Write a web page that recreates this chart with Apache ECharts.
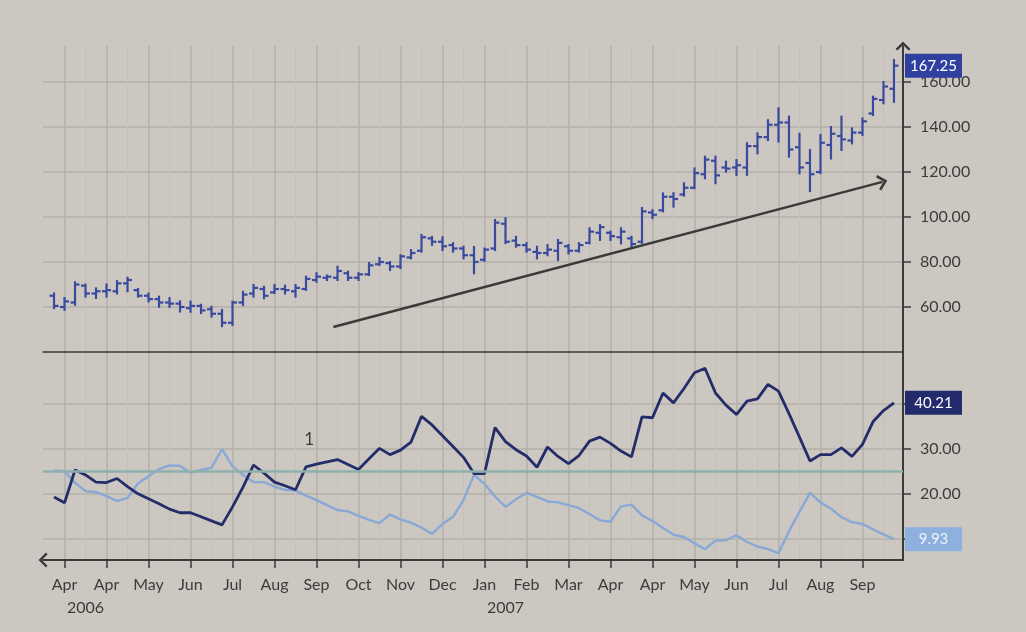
<!DOCTYPE html>
<html><head><meta charset="utf-8">
<script src="https://cdn.jsdelivr.net/npm/echarts@6/dist/echarts.min.js"></script>
<style>html,body{margin:0;padding:0;background:#ccc8c1}#c{width:1026px;height:632px}</style>
</head><body><div id="c"></div>
<script>
// ---- data (weekly) ----
const monthLabels = ['Apr','Apr','May','Jun','Jul','Aug','Sep','Oct','Nov','Dec','Jan','Feb','Mar','Apr','Apr','May','Jun','Jul','Aug','Sep'];
const monthTickWeeks = [1,5,9,13,17,21,25,29,33,37,41,45,49,53,57,61,65,69,73,77];
const yearLabels = ['2006','2007'];
const yearLabelWeeks = [3,43];

const opens = [65,60,62,69.5,66,67,67,70.5,67.5,65,
  63.5,62,61.5,59.5,60.5,59,57,53,62,66,
  68,66.5,68,67,68,72,73,73,75,73,
  74.5,79,79.5,78,82,85,90.5,89,87.5,86,
  83,81,86,97,89.5,87.5,84.5,84,85,87,
  85,88.5,93,93,91,90.5,89,102,103,109,
  110,113,119,125,122,122,122,131.5,135.5,141,
  142,131,124,120,132,136,134,137.5,146,152,
  157];
const closes = [60.5,62.5,70,66,67,67.5,70.5,72,65,63.5,
  62,61.5,60,60.5,58.5,57,53,62,65.5,68.5,
  65,68,67.5,68.5,72.5,73.5,73.5,76,73,74.5,
  78.5,80,78,82.5,84,91,89,87,86,83,
  80,85.5,97.5,89,87.5,85.5,84,85.5,88.5,85,
  87.5,93.5,95.5,91.5,93.5,88,102.5,101,109,108,
  113,119.5,125.5,118.5,121.5,123,131.5,135.5,141,142,
  130,122,119,133,137,134.5,137.5,142.5,152.5,158,
  167.25];
const lows = [59.5,58.7,61,64.6,64,64.6,66,67,64.6,62.4,
  60.1,60,58,57.9,57.3,55.7,51.5,52,60.9,64.6,
  63.9,66.2,66,64.6,67.6,71.2,72,72,72,72,
  74.2,78.7,76.4,77.3,81.6,84.6,87.6,85.3,84.6,81.6,
  75,80.5,85.3,88.4,86.8,84.6,81.6,83,80.9,83.8,
  84.6,88.3,89.8,89.8,88.3,86.8,88.5,99.5,102.5,104.6,
  109.5,112.8,117.2,115,120.1,118.7,118.7,128.3,134.2,133.5,
  126.8,119.4,111.5,119.5,126,129.8,132.7,136.4,145.3,150.5,
  151.2];
const highs = [66,64,71,70,68.3,70,71.5,73,68,66,
  64.6,64,62.5,62.4,61,60.1,58.7,62.4,66.8,69.8,
  69,69.8,69.5,69.8,73.5,75,74,77.9,75.7,75,
  79.6,81.8,80,83,85.3,92,91.2,91,88.4,86.8,
  86.7,86,98.7,99.5,91.2,88.4,86.8,87.5,89.8,87.6,
  88.4,95,96.4,93.5,95,91.2,104,103,110.5,110.6,
  115,121.6,126.8,126.8,124.6,125.3,132.8,137.2,143,148.3,
  144.6,137,129.8,136.4,140,144.6,139.4,143.8,153.5,160,
  169.8];

const plusDI = [19.3,18.0,25.3,24.2,22.6,22.5,23.4,21.6,20.0,18.9,
  17.8,16.6,15.8,15.8,14.9,14.0,13.1,17.1,21.5,26.4,
  24.6,22.6,21.8,20.9,26.0,26.6,27.1,27.6,26.5,25.4,
  27.8,30.1,28.7,29.7,31.5,37.2,35.3,32.9,30.5,28.1,
  24.5,24.5,34.7,31.6,29.8,28.4,25.9,30.4,28.3,26.7,
  28.5,31.7,32.6,31.2,29.5,28.2,37.1,36.9,42.4,40.2,
  43.4,46.9,47.9,42.4,39.7,37.6,40.6,41.1,44.3,42.8,
  37.8,32.6,27.3,28.7,28.7,30.2,28.3,31.0,36.0,38.5,
  40.21];
const minusDI = [25.2,25.0,22.5,20.6,20.4,19.5,18.4,19.1,22.3,23.9,
  25.5,26.3,26.2,24.7,25.3,25.8,29.9,26.1,24.2,22.6,
  22.6,21.6,20.9,20.7,19.6,18.6,17.5,16.4,16.1,15.1,
  14.2,13.5,15.4,14.3,13.6,12.5,11.1,13.3,14.9,18.6,
  24.2,22.2,19.4,17.1,18.8,20.2,19.3,18.3,18.1,17.5,
  16.8,15.5,14.1,13.8,17.2,17.6,15.2,14.0,12.4,10.9,
  10.4,9.0,7.7,9.6,9.7,10.8,9.3,8.3,7.7,6.8,
  11.7,16.0,20.2,18.1,16.7,14.8,13.7,13.3,12.1,11.0,
  9.93];

const priceTicks = [60,80,100,120,140,160];
const diTicks = [10,20,30,40];
const diLabelTicks = [20,30];
const diThreshold = 25;
const trendLine = [[26.6, 51.1],[78.9, 115.6]];
const annotation = {text:'1', week:24.3, value:32};

// ---- styles ----
const BG='#ccc8c1', MAJOR='#b3afa8', MINOR='#c4c0b9', AXIS='#3a3a3a', TEXT='#3c3c3c';
const BAR='#3a4a9e', DARK='#242c69', LIGHT='#88a8d6';
const FONT='Lato';
const chevron='path://M0,10 L10,0 L20,10 L17.5,12 L10,4.5 L2.5,12 Z';
const XMIN=-1.05, XMAX=80.86;
const minorWeeks = monthTickWeeks.map(w=>w+2);

function pairs(arr){ return arr.map((v,i)=>[i,v]); }
const ohlc = opens.map((o,i)=>[i,o,closes[i],lows[i],highs[i]]);

function renderOHLC(params, api){
  const x=api.value(0);
  const o=api.coord([x,api.value(1)]), c=api.coord([x,api.value(2)]);
  const l=api.coord([x,api.value(3)]), h=api.coord([x,api.value(4)]);
  const t=4.5, style={stroke:BAR, lineWidth:2.2};
  return {type:'group', children:[
    {type:'line', shape:{x1:h[0],y1:h[1]-1,x2:l[0],y2:l[1]+1}, style},
    {type:'line', shape:{x1:o[0]-t,y1:o[1],x2:o[0],y2:o[1]}, style},
    {type:'line', shape:{x1:c[0],y1:c[1],x2:c[0]+t,y2:c[1]}, style}
  ]};
}

function boxLabel(value, bg, fg){
  return {
    silent:true, symbol:'none', lineStyle:{color:'rgba(0,0,0,0)', width:0, opacity:1},
    label:{show:true, position:'end', distance:2, opacity:1, backgroundColor:bg, padding:[3,5,3,5],
      formatter:()=>'{a|'+value.toFixed(2)+'}',
      rich:{a:{width:47, align:'center', color:fg, fontSize:15, fontFamily:FONT, lineHeight:18}}},
    data:[{yAxis:value}]
  };
}

const chart = echarts.init(document.getElementById('c'));
chart.setOption({
  backgroundColor:BG,
  animation:false,
  textStyle:{fontFamily:FONT},
  grid:[
    {left:43, right:123, top:46, height:306},
    {left:43, right:123, top:352, height:208}
  ],
  xAxis:[
    {gridIndex:0, type:'value', min:XMIN, max:XMAX,
     axisLine:{show:true, onZero:false, lineStyle:{color:AXIS, width:1.5}},
     axisTick:{show:false, customValues:monthTickWeeks}, axisLabel:{show:false},
     splitLine:{show:true, lineStyle:{color:MAJOR, width:1.5}}},
    {gridIndex:0, type:'value', min:XMIN, max:XMAX, axisLine:{show:false},
     axisTick:{show:false, customValues:minorWeeks}, axisLabel:{show:false},
     splitLine:{show:true, lineStyle:{color:MINOR, width:1}}},
    {gridIndex:1, type:'value', min:XMIN, max:XMAX,
     axisLine:{show:true, onZero:false, symbol:[chevron,'none'], symbolSize:[16,9], lineStyle:{color:AXIS, width:2}},
     axisTick:{show:true, customValues:monthTickWeeks, length:8, lineStyle:{color:AXIS, width:1.5}},
     axisLabel:{customValues:monthTickWeeks, margin:17, color:TEXT, fontSize:16, fontFamily:FONT,
       formatter:v=>monthLabels[monthTickWeeks.indexOf(Math.round(v))]},
     splitLine:{show:true, lineStyle:{color:MAJOR, width:1.5}}},
    {gridIndex:1, type:'value', min:XMIN, max:XMAX, axisLine:{show:false},
     axisTick:{show:false, customValues:minorWeeks}, axisLabel:{show:false},
     splitLine:{show:true, lineStyle:{color:MINOR, width:1}}},
    {gridIndex:1, type:'value', min:XMIN, max:XMAX, position:'bottom', axisLine:{show:false},
     axisTick:{show:false, customValues:yearLabelWeeks},
     axisLabel:{customValues:yearLabelWeeks, margin:40, color:TEXT, fontSize:16, fontFamily:FONT,
       formatter:v=>yearLabels[yearLabelWeeks.indexOf(Math.round(v))]},
     splitLine:{show:false}}
  ],
  yAxis:[
    {gridIndex:0, type:'value', position:'right', min:40, max:176, interval:20,
     axisLine:{show:true, onZero:false, symbol:['none',chevron], symbolSize:[16,9], lineStyle:{color:AXIS, width:2}},
     axisTick:{show:true, customValues:priceTicks, length:8, lineStyle:{color:AXIS, width:1.5}},
     axisLabel:{customValues:priceTicks, margin:17, color:TEXT, fontSize:16, fontFamily:FONT, formatter:v=>v.toFixed(2)},
     splitLine:{show:true, lineStyle:{color:MAJOR, width:1.5}}},
    {gridIndex:1, type:'value', position:'right', min:5.3, max:51.5,
     axisLine:{show:true, onZero:false, lineStyle:{color:AXIS, width:2}},
     axisTick:{show:true, customValues:diTicks, length:8, lineStyle:{color:AXIS, width:1.5}},
     axisLabel:{customValues:diLabelTicks, margin:17, color:TEXT, fontSize:16, fontFamily:FONT, formatter:v=>v.toFixed(2)},
     splitLine:{show:true, lineStyle:{color:MAJOR, width:1.5}}}
  ],
  series:[
    {type:'line', xAxisIndex:2, yAxisIndex:1, data:[], silent:true,
     markLine:{silent:true, symbol:'none', label:{show:false},
       lineStyle:{color:'#8db0ad', width:2.5, type:'solid'}, data:[{yAxis:diThreshold}]}},
    {type:'custom', name:'Price', xAxisIndex:0, yAxisIndex:0, renderItem:renderOHLC,
     encode:{x:0, y:[1,2,3,4]}, data:ohlc, z:3},
    {type:'line', xAxisIndex:0, yAxisIndex:0, data:[], silent:true,
     markLine:{silent:true, symbol:['none',chevron], symbolSize:[16,10], label:{show:false},
       lineStyle:{color:'#3a3a3a', width:2.5, type:'solid'},
       data:[[{coord:trendLine[0]},{coord:trendLine[1]}]]}},
    {type:'line', xAxisIndex:0, yAxisIndex:0, data:[], silent:true, z:5,
     markLine:boxLabel(closes[closes.length-1], '#2f40a0', '#ffffff')},
    {type:'line', name:'-DI', xAxisIndex:2, yAxisIndex:1, data:pairs(minusDI), symbol:'none',
     lineStyle:{color:LIGHT, width:2.4}, z:3,
     markLine:boxLabel(minusDI[minusDI.length-1], '#8eb0de', '#eef3fa')},
    {type:'line', name:'+DI', xAxisIndex:2, yAxisIndex:1, data:pairs(plusDI), symbol:'none',
     lineStyle:{color:DARK, width:2.8}, z:4,
     markLine:boxLabel(plusDI[plusDI.length-1], '#222b6b', '#ffffff'),
     markPoint:{silent:true, symbol:'circle', symbolSize:1, itemStyle:{color:'transparent'},
       label:{show:true, position:'inside', formatter:annotation.text, color:TEXT, fontSize:17, fontFamily:FONT},
       data:[{coord:[annotation.week, annotation.value]}]}}
  ]
});
</script></body></html>
